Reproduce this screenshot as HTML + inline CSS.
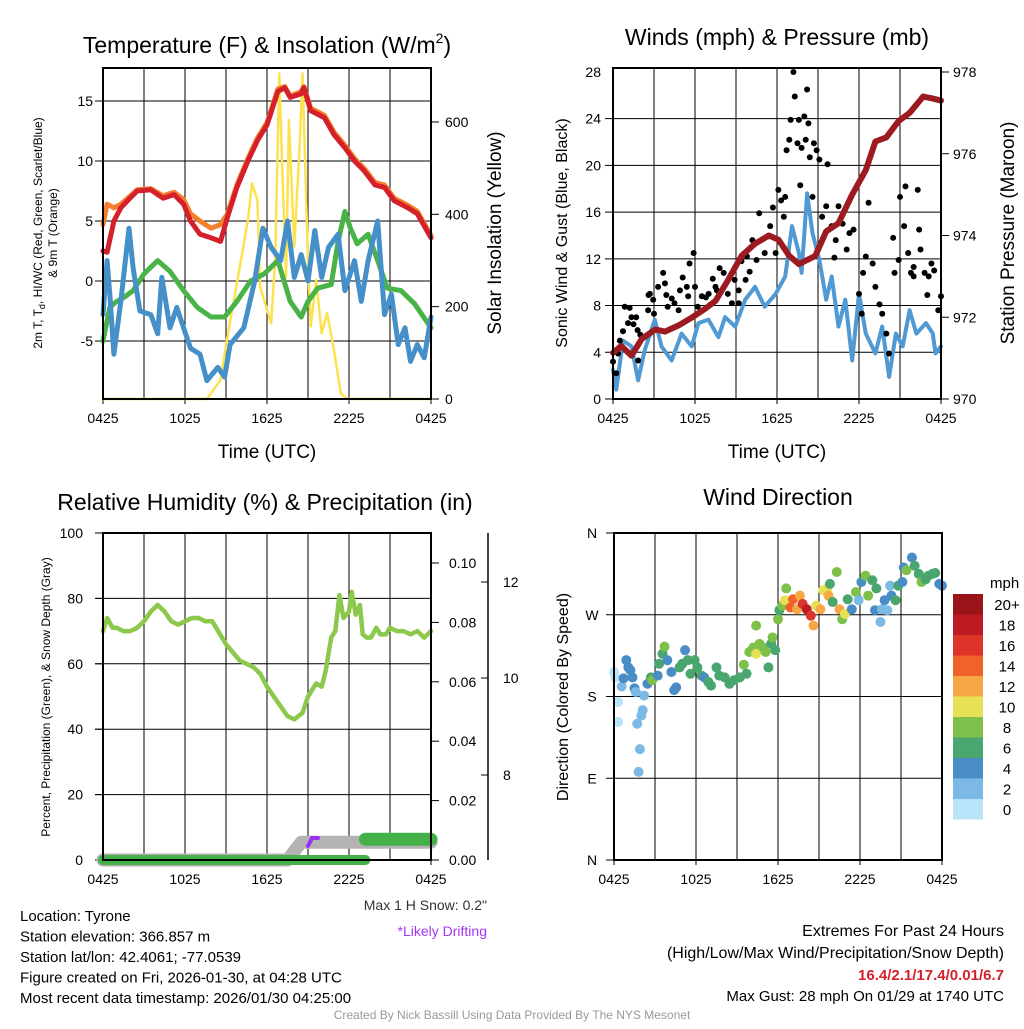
<!DOCTYPE html>
<html><head><meta charset="utf-8"><style>
body{margin:0;background:#fff;width:1024px;height:1024px;overflow:hidden}
svg{font-family:"Liberation Sans",sans-serif}
</style></head><body>
<svg id="c" width="1024" height="1024" xmlns="http://www.w3.org/2000/svg"></svg>
<script>
// ---------- DATA ----------
const redT=[0,0.3,0.8,1.3,1.8,2.5,3.5,4.4,5.2,5.9,6.4,7.1,7.9,8.6,9.1,9.8,10.6,11.3,12,12.8,13.3,13.7,14.5,14.7,15.2,16.2,16.9,17.7,18.4,19.1,19.9,20.6,21.3,22.3,23,24];
const tempRed=[2.5,2.4,5,6.1,6.7,7.5,7.6,6.9,7.2,6.4,5,3.9,3.6,3.3,5.3,7.8,10,11.7,13,15.8,16.1,15.3,15.6,16.1,14.2,13.6,12.2,11.1,10,9.2,8,7.8,6.7,6.1,5.6,3.6];
const tempOrange=[4.7,6.4,6.1,6.4,6.9,7.6,7.7,7.1,7.4,6.8,5.6,5,4.4,4.7,5.6,8,10.2,11.9,13.2,16,16.2,15.4,15.8,16.2,14.4,13.8,12.4,11.3,10.2,9.4,8.2,8,6.9,6.3,5.8,3.8];
const dewT=[0,0.5,1,1.5,2.2,3,4,4.9,5.9,6.9,7.9,8.9,9.8,10.8,11.8,12.8,13.7,14.5,15,15.7,16.7,17.2,17.7,18.1,18.6,19.4,20.1,20.8,21.8,22.8,24];
const dewGreen=[-5,-2.2,-1.7,-1.4,-0.8,0.6,1.7,0.8,-0.8,-2.2,-3,-3,-1.7,0,0.6,1.7,-1.7,-3,-1.7,-0.6,-0.3,3.3,5.8,4.4,3.1,3.9,1.7,-0.6,-0.8,-1.9,-3.9];
const wcT=[0,0.3,0.5,0.8,1.3,1.9,2.2,2.7,3.5,4,4.3,4.9,5.4,5.9,6.4,7.1,7.6,8.4,8.9,9.3,10.3,11.1,11.7,12.3,13,13.5,14,14.5,15,15.5,16,16.5,17.2,17.7,18.4,18.9,19.4,20.1,20.6,21.1,21.6,22.1,22.5,23,23.5,24];
const windChill=[-2.8,1.7,-1.1,-6.1,-1.7,4.4,1.1,-2.5,-2.8,-4.4,0.3,-3.9,-2.2,-3.9,-5.6,-6.1,-8.3,-7.2,-8,-5.3,-3.9,0,4.4,2.8,1.7,5,0.3,2.2,0,4.2,0.3,2.8,3.9,-0.8,1.7,-1.7,1.7,5,-2.8,-1.1,-5.3,-3.9,-6.7,-5.3,-6.4,-3];
const solarT=[0,7.6,8.6,9.1,10.1,10.6,10.9,11.3,11.5,12.3,12.6,12.9,13.1,13.4,13.6,14,14.4,14.6,15,15.2,15.6,16,16.4,16.9,17.4,17.9,24];
const solarW=[0,0,41,135,301,388,467,431,243,164,301,705,518,265,604,330,554,705,301,157,258,142,186,106,12,0,0];
const windT=[0,0.24,0.73,1.35,1.84,2.33,3.06,3.55,4.29,5.02,5.76,6.25,6.98,7.71,8.2,8.94,9.67,10.4,11.1,11.9,12.6,13.1,13.6,13.8,14.2,14.6,15.1,15.6,16,16.5,17,17.5,18,18.5,19.2,19.7,20.2,20.7,21.2,21.7,22.2,22.9,23.4,23.6,24];
const windSpd=[2.5,0.8,5,4.5,1.6,4.2,6.8,4.5,3.3,5.6,4.5,6.5,6.8,5.3,7,6.2,8.5,9.6,7.9,9,10.5,14.8,12.5,10.8,17.6,14.2,11.9,8.5,10.5,6.2,8.5,3.3,9,5.6,3.9,6.2,1.9,5.6,4.5,7.6,5.6,6.5,5.6,3.9,4.5];
const presT=[0,0.6,1.35,2.1,3.1,3.8,4.8,5.8,6.7,7.5,8.4,9.4,10.4,11.4,12.1,12.9,13.6,14.8,15.6,16.5,17.5,18.5,19.2,20,20.9,21.7,22.7,23.4,24];
const presMb=[971.13,971.3,971.06,971.47,971.7,971.65,971.8,972,972.2,972.4,972.9,973.5,973.8,974,973.9,973.5,973.3,973.5,974.1,974.3,975,975.6,976.3,976.4,976.8,977,977.4,977.35,977.3];
const gustT=[
0,0.37,0.24,0.73,0.86,1.1,1.35,1.7,1.22,1.84,
2.57,2.7,2.94,3.3,3.67,3.8,4,4.5,4.9,5.4,
5.6,5.9,5.5,6.2,6.5,7,7.3,7.6,8.1,8.4,
8.7,9.2,9.7,9.8,10.2,10.7,11.1,11.5,11.9,12.1,
12.3,12.5,12.6,12.7,12.9,13,13.2,13.3,13.5,13.6,
13.7,13.8,14,14.1,14.2,14.3,14.4,14.6,14.7,14.9,
15.1,15.3,15.6,15.7,16,16.3,16.5,16.8,17.1,17.6,
18,18.2,18.5,18.7,19,19.2,19.7,20,20.2,20.5,
20.6,20.9,21,21.3,21.4,21.6,21.8,22,22.3,22.4,
22.5,22.8,23,23.3,23.5,23.8,24,23.1,22,2.6,
0.5,1.5,2,3,3.9,4.3,5.1,6,6.8,7.8,
8.9,9.4,10,10.5,11.3,11.7,16.2,17.3,18.3,19.5,
7.5,9.2,4.8,1.8];
const gustV=[
3.2,3.9,2.2,5.8,7.9,6.5,7,7,7.8,3.3,
7.6,9,8.5,9.6,10.8,9.9,7.9,8.2,9.3,9.6,
11.6,12.5,8.8,7.9,8.8,9,10.3,9.3,10.8,9,
8.2,9.3,10.2,12.2,13.6,15.9,12.5,14.8,12.5,17.9,
17,15.6,17.3,21.3,22.2,23.9,28,25.9,21.9,23.9,
18.3,21.5,24.2,22.2,26.5,23.6,20.7,17.3,21.9,21.3,
20.5,15.6,16.5,20.1,14.8,13.6,16.5,15,12.8,14.5,
9,7.3,12.2,16.8,11.6,9.6,7.3,5.6,3.9,13.8,
10.8,11.9,17.3,14.8,18.2,12.5,10.8,11.3,17.9,14.5,
12.8,10.8,8.9,11.6,11,7.6,8.8,10.5,10.5,8.9,
5,6.4,5.5,7.3,8.9,8.6,10.4,9.6,8.7,11.2,
10.2,11.8,10.9,11.9,13.9,16.4,12.1,14.2,10.8,8.1,
9.6,8.2,7.6,5.9];
const rhT=[0,0.3,0.7,1,1.5,2,2.5,3,3.5,4,4.5,5,5.5,6,6.5,7,7.5,8,9,10,11,11.5,12,12.5,13,13.5,14,14.3,14.6,15,15.3,15.6,16,16.3,16.7,17,17.3,17.6,18,18.2,18.5,18.8,19,19.3,19.6,20,20.3,20.7,21,21.5,22,22.5,23,23.5,24];
const rhV=[70,74,71,71,70,70,71,73,76,78,76,73,72,73,74,74,73,73,66,61,59,57,53,50,47,44,43,44,45,50,52,54,53,58,68,70,81,74,76,82,75,78,69,68,68,71,69,69,71,70,70,69,70,68,70];
const snowT=[0,13.5,14.5,24];
const snowV=[0,0,0.006,0.006];
const precipT=[0,19.2];
const precipV=[0,0];
const precip2T=[19.2,24];
const precip2V=[0.007,0.007];
const dirT=[
0,0.1,0.3,0.3,0.56,0.7,0.9,1.05,1.2,1.35,
1.5,1.6,1.7,1.9,1.8,2.0,2.1,2.2,2.45,2.7,
2.8,3.2,3.3,3.55,3.7,3.9,4.2,4.4,4.55,4.8,
5.0,5.2,5.4,5.6,5.9,6.1,6.4,6.6,6.9,7.1,
7.5,7.7,8.1,8.45,8.8,9.2,9.5,9.7,9.9,10.2,
10.4,10.4,10.65,10.9,11.1,11.3,11.5,11.6,11.8,12,
12.1,12.3,12.5,12.6,12.9,13.1,13.4,13.6,13.8,14.1,
14.4,14.6,14.8,15.1,15.3,15.6,15.7,15.8,16,16.3,
16.5,16.7,16.9,17.1,17.4,17.7,17.9,18.1,18.4,18.6,
18.9,19.1,19.2,19.5,19.6,19.8,20,20.2,20.3,20.6,
20.8,21.1,21.2,21.4,21.8,22,22.3,22.5,22.8,23,
23.3,23.5,23.8,24];
const dirDeg=[
207,201,174,152,191,200,220,212,209,201,
189,185,150,122,97,159,165,181,194,201,
198,203,216,227,235,220,207,187,190,212,
216,231,220,205,220,212,203,201,196,192,
212,203,201,194,198,201,215,205,229,234,
258,227,238,234,229,212,238,245,231,265,
275,280,286,299,278,287,276,291,282,276,
269,258,280,276,297,299,291,304,284,317,
276,265,271,287,276,295,286,306,313,291,
308,275,299,262,276,286,275,302,291,286,
302,306,322,319,333,324,315,306,309,313,
315,316,304,302];
const dirSpd=[
1,0,0,0,2,4,4,4,4,4,
4,2,2,2,2,2,2,2,4,6,
8,4,6,6,8,4,4,4,4,6,
6,4,6,6,6,6,6,4,6,6,
6,6,6,6,6,6,8,6,8,8,
8,10,8,8,8,6,6,8,6,8,
6,8,10,8,14,14,12,12,16,18,
16,12,10,12,10,10,12,6,6,8,
12,8,10,6,4,8,2,4,8,8,
6,4,6,2,2,4,2,2,4,6,
6,4,4,8,4,6,6,8,6,6,
6,6,4,4];
const cbLabels=["20+","18","16","14","12","10","8","6","4","2","0"];
const cbColors=["#981419","#bd1c24","#dd342a","#ef6329","#f6a846","#e6e155","#7dc14a","#48a66e","#4a8dc6","#7db9e5","#b8e3f8"];

// ---------- HELPERS ----------
const S=document.getElementById('c');const NS='http://www.w3.org/2000/svg';
function mk(tag,attrs,parent){const e=document.createElementNS(NS,tag);for(const k in attrs)e.setAttribute(k,attrs[k]);(parent||S).appendChild(e);return e;}
function txt(x,y,s,size,anchor,extra){const e=mk('text',Object.assign({x:x,y:y,'font-size':size,'text-anchor':anchor||'middle',fill:'#000'},extra||{}));e.textContent=s;return e;}
function poly(xs,ys,fx,fy,attrs){let d='';for(let i=0;i<xs.length;i++)d+=(i?'L':'M')+fx(xs[i]).toFixed(1)+' '+fy(ys[i]).toFixed(1);return mk('path',Object.assign({d:d,fill:'none','stroke-linejoin':'round','stroke-linecap':'round'},attrs));}
function frame(x0,y0,x1,y1){
  for(let i=1;i<8;i++){const x=x0+(x1-x0)*i/8;mk('line',{x1:x,y1:y0,x2:x,y2:y1,stroke:'#000','stroke-width':1});}
  for(const xx of [x0,x0+(x1-x0)/4,x0+(x1-x0)/2,x0+3*(x1-x0)/4,x1]){mk('line',{x1:xx,y1:y1,x2:xx,y2:y1+5,stroke:'#000'});}
  const lbl=["0425","1025","1625","2225","0425"];
  lbl.forEach((l,i)=>{const t=txt(x0+(x1-x0)*i/4,y1+24,l,14);});
}
function border(x0,y0,x1,y1){mk('rect',{x:x0,y:y0,width:x1-x0,height:y1-y0,fill:'none',stroke:'#000','stroke-width':2});}
function hgrid(x0,x1,ys){ys.forEach(y=>mk('line',{x1:x0,y1:y,x2:x1,y2:y,stroke:'#000','stroke-width':1}));}

// ---------- PANEL 1 ----------
(function(){
const x0=103,x1=431,y0=68,y1=399;
const fx=t=>x0+t*(x1-x0)/24, fy=v=>281-12*v, fs=w=>399-w*0.4617;
frame(x0,y0,x1,y1);hgrid(x0-8,x1,[101,161,221,281,341]);
[15,10,5,0,-5].forEach(v=>{txt(x0-10,fy(v)+5,String(v),14,'end');});
[0,200,400,600].forEach(v=>{txt(x1+14,fs(v)+5,String(v),14,'start');mk('line',{x1:x1,y1:fs(v),x2:x1+8,y2:fs(v),stroke:'#000'});});
let p=poly(solarT,solarW,fx,fs,{stroke:'#fde24f','stroke-width':2.5});
p=poly(redT,tempOrange,fx,fy,{stroke:'#f47f2c','stroke-width':5});
p=poly(redT,tempRed,fx,fy,{stroke:'#d4202a','stroke-width':5});
p=poly(dewT,dewGreen,fx,fy,{stroke:'#49b347','stroke-width':5});
p=poly(wcT,windChill,fx,fy,{stroke:'#4590c9','stroke-width':5});
border(x0,y0,x1,y1);
let t=txt(267,53,'Temperature (F) & Insolation (W/m',23);
const ts=mk('tspan',{'font-size':14,dy:-10},t);ts.textContent='2';const ts2=mk('tspan',{dy:10},t);ts2.textContent=')';
t=txt(267,458,'Time (UTC)',19);
t=txt(0,0,'2m T, T',12,'middle',{transform:'translate(42,233) rotate(-90)'});const sb=mk('tspan',{'font-size':9,dy:3},t);sb.textContent='d';const sb2=mk('tspan',{dy:-3},t);sb2.textContent=', HI/WC (Red, Green, Scarlet/Blue)';

t=txt(0,0,'& 9m T (Orange)',12,'middle',{transform:'translate(57,233) rotate(-90)'});
t=txt(0,0,'Solar Insolation (Yellow)',19,'middle',{transform:'translate(501,233) rotate(-90)'});
})();

// ---------- PANEL 2 ----------
(function(){
const x0=613,x1=941,y0=68,y1=399;
const fx=t=>x0+t*(x1-x0)/24, fy=v=>399-v*11.68, fp=m=>399-(m-970)*40.875;
frame(x0,y0,x1,y1);hgrid(x0-8,x1,[0,4,8,12,16,20,24].map(fy));
[0,4,8,12,16,20,24,28].forEach(v=>{txt(x0-12,fy(v)+5,String(v),14,'end');});
[970,972,974,976,978].forEach(v=>{txt(x1+12,fp(v)+5,String(v),14,'start');mk('line',{x1:x1,y1:fp(v),x2:x1+8,y2:fp(v),stroke:'#000'});});
let p=poly(windT,windSpd,fx,fy,{stroke:'#5199d3','stroke-width':4});
for(let i=0;i<gustT.length;i++){const c=mk('circle',{cx:fx(gustT[i]),cy:fy(gustV[i]),r:3,fill:'#000'});

}
p=poly(presT,presMb,fx,fp,{stroke:'#9c1b21','stroke-width':6});
border(x0,y0,x1,y1);
let t=txt(777,45,'Winds (mph) & Pressure (mb)',23);
t=txt(777,458,'Time (UTC)',19);
t=txt(0,0,'Sonic Wind & Gust (Blue, Black)',16,'middle',{transform:'translate(567,233) rotate(-90)'});
t=txt(0,0,'Station Pressure (Maroon)',19,'middle',{transform:'translate(1014,233) rotate(-90)'});
})();

// ---------- PANEL 3 ----------
(function(){
const x0=103,x1=431,y0=533,y1=860;
const fx=t=>x0+t*(x1-x0)/24, fy=v=>860-v*3.27, fr=v=>860-v*2970;
frame(x0,y0,x1,y1);hgrid(x0-8,x1,[20,40,60,80].map(fy));
[0,20,40,60,80,100].forEach(v=>{txt(x0-20,fy(v)+5,String(v),14,'end');mk('line',{x1:x0-8,y1:fy(v),x2:x0,y2:fy(v),stroke:'#000'});});
[0,0.02,0.04,0.06,0.08,0.10].forEach(v=>{txt(x1+18,fr(v)+5,v.toFixed(2),14,'start');mk('line',{x1:x1,y1:fr(v),x2:x1+8,y2:fr(v),stroke:'#000'});});
mk('line',{x1:488,y1:533,x2:488,y2:860,stroke:'#000','stroke-width':1.5});
[["12",582],["10",678],["8",775]].forEach(a=>{txt(503,a[1]+5,a[0],14,'start');mk('line',{x1:481,y1:a[1],x2:488,y2:a[1],stroke:'#000'});});
let p=poly(snowT,snowV,fx,fr,{stroke:'#b3b3b3','stroke-width':13});
p=mk('path',{d:'M308 846 L312 838 L318 838',stroke:'#9b30f5','stroke-width':4,fill:'none','stroke-linecap':'round'});
p=poly(precipT,precipV,fx,fr,{stroke:'#44b049','stroke-width':10});
p=poly(precip2T,precip2V,fx,fr,{stroke:'#44b049','stroke-width':13});
p=poly(rhT,rhV,fx,fy,{stroke:'#8cc84b','stroke-width':4.5});
border(x0,y0,x1,y1);
let t=txt(265,510,'Relative Humidity (%) & Precipitation (in)',23);
t=txt(0,0,'Percent, Precipitation (Green), & Snow Depth (Gray)',12,'middle',{transform:'translate(50,697) rotate(-90)'});
t=txt(487,910,'Max 1 H Snow: 0.2"',14,'end',{fill:'#333'});
t=txt(487,936,'*Likely Drifting',14,'end',{fill:'#a535f0'});
})();

// ---------- PANEL 4 ----------
(function(){
const x0=614,x1=942,y0=533,y1=860;
const fx=t=>x0+t*(x1-x0)/24, fd=d=>860-d*327/360;
frame(x0,y0,x1,y1);hgrid(x0-8,x1,[533,614.75,696.5,778.25,860]);
[["N",0],["E",90],["S",180],["W",270],["N",360]].forEach(a=>txt(x0-22,fd(a[1])+5,a[0],14,'middle'));
function col(s){const i=Math.min(10,Math.floor(s/2));return cbColors[10-i];}
for(let i=0;i<dirT.length;i++){const c=mk('circle',{cx:fx(dirT[i]),cy:fd(dirDeg[i]),r:5,fill:col(dirSpd[i])});

}
border(x0,y0,x1,y1);
let t=txt(778,505,'Wind Direction',23);
t=txt(0,0,'Direction (Colored By Speed)',16,'middle',{transform:'translate(568,697) rotate(-90)'});
t=txt(990,588,'mph',15,'start');
cbLabels.forEach((l,i)=>{const r=mk('rect',{x:953,y:594+i*20.5,width:30,height:20.5,fill:cbColors[i]});


txt(1007,594+i*20.5+16,l,15,'middle');});
})();

// ---------- FOOTER ----------
["Location: Tyrone","Station elevation: 366.857 m","Station lat/lon: 42.4061; -77.0539","Figure created on Fri, 2026-01-30, at 04:28 UTC","Most recent data timestamp: 2026/01/30 04:25:00"].forEach((s,i)=>{const t=txt(20,921+i*20.5,s,15,'start');});
let t=txt(1004,936,'Extremes For Past 24 Hours',16,'end');
t=txt(1004,958,'(High/Low/Max Wind/Precipitation/Snow Depth)',16,'end');
t=txt(1004,980,'16.4/2.1/17.4/0.01/6.7',15,'end',{fill:'#d4202a','font-weight':'bold'});
t=txt(1004,1001,'Max Gust: 28 mph On 01/29 at 1740 UTC',15,'end');
t=txt(512,1019,'Created By Nick Bassill Using Data Provided By The NYS Mesonet',12,'middle',{fill:'#999'});
</script>
</body></html>
